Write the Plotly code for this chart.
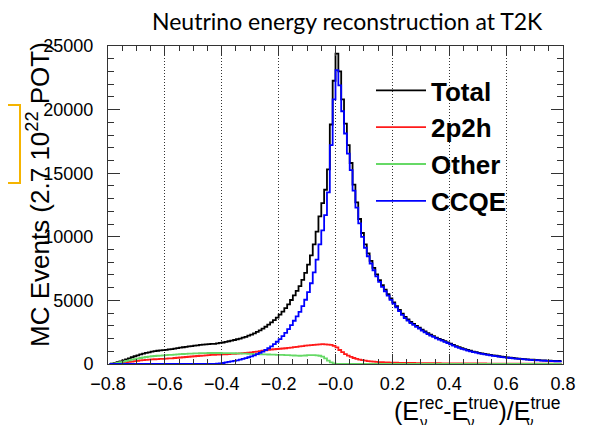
import numpy as np
import plotly.graph_objects as go

# ---------------- data ----------------
bin_centers = np.round(np.linspace(-0.795, 0.795, 160), 3)

total = [10, 30, 80, 140, 210, 290, 370, 450, 530, 610,
         680, 750, 810, 870, 920, 970, 1005, 1040, 1065, 1090,
         1115, 1145, 1175, 1210, 1245, 1280, 1315, 1350, 1380, 1410,
         1440, 1470, 1500, 1520, 1540, 1560, 1575, 1585, 1615, 1655,
         1690, 1740, 1790, 1840, 1885, 1945, 2000, 2070, 2140, 2225,
         2310, 2410, 2520, 2650, 2785, 2930, 3095, 3270, 3450, 3650,
         3875, 4120, 4390, 4690, 5030, 5390, 5750, 6130, 6620, 7160,
         7810, 8540, 9410, 10410, 11600, 12640, 13700, 15300, 18830, 22270,
         24400, 23000, 20800, 18900, 17200, 15800, 14100, 12700, 11400, 10300,
         9400, 8700, 8100, 7550, 7050, 6600, 6200, 5850, 5500, 5150,
         4850, 4550, 4250, 3950, 3700, 3500, 3300, 3150, 3000, 2850,
         2700, 2560, 2420, 2300, 2190, 2080, 1980, 1890, 1790, 1700,
         1600, 1500, 1400, 1320, 1240, 1170, 1100, 1040, 980, 930,
         880, 840, 800, 760, 720, 680, 650, 610, 580, 550,
         520, 500, 470, 450, 430, 410, 390, 370, 350, 340,
         320, 310, 290, 280, 270, 260, 250, 240, 235, 230]

twop2h = [0, 10, 30, 50, 70, 100, 130, 160, 190, 220,
          250, 280, 300, 320, 340, 360, 375, 390, 400, 410,
          420, 435, 450, 470, 490, 510, 530, 550, 570, 590,
          610, 630, 650, 665, 680, 695, 710, 720, 730, 740,
          750, 760, 775, 790, 800, 815, 830, 850, 870, 895,
          920, 950, 980, 1020, 1050, 1080, 1110, 1140, 1160, 1180,
          1200, 1220, 1240, 1260, 1290, 1320, 1350, 1380, 1410, 1440,
          1470, 1490, 1510, 1530, 1550, 1560, 1550, 1530, 1500, 1430,
          1300, 1100, 930, 780, 660, 560, 470, 400, 340, 300,
          260, 230, 200, 180, 165, 150, 140, 130, 120, 112,
          105, 100, 96, 92, 88, 85, 82, 79, 76, 73,
          70, 68, 66, 64, 62, 60, 58, 56, 54, 52,
          50, 49, 48, 47, 46, 45, 44, 43, 42, 41,
          40, 39, 38, 37, 36, 35, 34, 33, 32, 31,
          30, 30, 29, 29, 28, 28, 27, 27, 26, 26,
          25, 25, 24, 24, 23, 23, 22, 22, 21, 20]

other = [0, 20, 50, 90, 140, 190, 240, 290, 340, 390,
         430, 470, 510, 550, 580, 610, 630, 650, 665, 680,
         695, 710, 725, 740, 755, 770, 785, 800, 810, 820,
         830, 840, 850, 855, 860, 865, 865, 865, 865, 865,
         860, 860, 855, 850, 845, 840, 830, 820, 810, 800,
         790, 780, 770, 760, 755, 750, 745, 740, 730, 720,
         715, 710, 700, 690, 680, 670, 660, 650, 660, 670,
         690, 700, 700, 680, 650, 580, 450, 270, 130, 40,
         0, 0, 0, 0, 0, 0, 0, 0, 0, 0,
         0, 0, 0, 0, 0, 0, 0, 0, 0, 0,
         0, 0, 0, 0, 0, 0, 0, 0, 0, 0,
         0, 0, 0, 0, 0, 0, 0, 0, 0, 0,
         0, 0, 0, 0, 0, 0, 0, 0, 0, 0,
         0, 0, 0, 0, 0, 0, 0, 0, 0, 0,
         0, 0, 0, 0, 0, 0, 0, 0, 0, 0,
         0, 0, 0, 0, 0, 0, 0, 0, 0, 0]

ccqe = [0, 0, 0, 0, 0, 0, 0, 0, 0, 0,
        0, 0, 0, 0, 0, 0, 0, 0, 0, 0,
        0, 0, 0, 0, 0, 0, 0, 0, 0, 0,
        0, 0, 0, 0, 0, 0, 0, 0, 20, 50,
        80, 120, 160, 200, 240, 290, 340, 400, 460, 530,
        600, 680, 770, 870, 980, 1100, 1240, 1390, 1560, 1750,
        1960, 2190, 2450, 2740, 3060, 3400, 3740, 4100, 4550, 5050,
        5650, 6350, 7200, 8200, 9400, 10500, 11700, 13500, 17200, 20800,
        23100, 21900, 19870, 18120, 16540, 15240, 13630, 12300, 11060, 10000,
        9140, 8470, 7900, 7370, 6885, 6450, 6060, 5720, 5380, 5038,
        4745, 4450, 4154, 3858, 3612, 3415, 3218, 3071, 2924, 2777,
        2630, 2492, 2354, 2236, 2128, 2020, 1922, 1834, 1736, 1648,
        1550, 1451, 1352, 1273, 1194, 1125, 1056, 997, 938, 889,
        840, 801, 762, 723, 684, 645, 616, 577, 548, 519,
        490, 470, 441, 421, 402, 382, 363, 343, 324, 314,
        295, 285, 266, 256, 247, 237, 228, 218, 214, 210]

series_names = ["Total", "2p2h", "Other", "CCQE"]
series_colors = ["#000000", "#ff1a1a", "#66d966", "#0000ff"]

x_tick_vals = [-0.8, -0.6, -0.4, -0.2, 0.0, 0.2, 0.4, 0.6, 0.8]
x_tick_text = ["\u22120.8", "\u22120.6", "\u22120.4", "\u22120.2", "\u22120.0", "0.2", "0.4", "0.6", "0.8"]
y_tick_vals = [0, 5000, 10000, 15000, 20000, 25000]
y_tick_text = ["0", "5000", "10000", "15000", "20000", "25000"]

# ---------------- figure ----------------
# the page body adds an 8px offset; target positions below are window pixels
OFF = 8
W, H = 589, 425
L, R, T, B = 100, 34, 38, 69
pw, ph = W - L - R, H - T - B


def px_x(p):
    return (p - OFF - L) / pw


def px_y(p):
    return (H - B - (p - OFF)) / ph


fig = go.Figure()
for name, vals, col in zip(series_names, [total, twop2h, other, ccqe], series_colors):
    fig.add_trace(go.Scatter(
        x=bin_centers, y=vals, mode="lines", name=name,
        line=dict(color=col, width=1.8, shape="hvh"),
    ))

axis_col = "#333333"
fig.update_layout(
    width=W, height=H,
    margin=dict(l=L, r=R, t=T, b=B, pad=0),
    paper_bgcolor="white", plot_bgcolor="white",
    showlegend=True,
    legend=dict(
        x=px_x(371), y=px_y(67), xanchor="left", yanchor="top",
        bgcolor="rgba(0,0,0,0)", borderwidth=0,
        font=dict(family="Liberation Sans", size=26, color="black", weight="bold"),
        itemwidth=50, tracegroupgap=0,
    ),
    xaxis=dict(
        range=[-0.8, 0.8], tickmode="array", tickvals=x_tick_vals, ticktext=x_tick_text,
        ticks="inside", ticklen=10, tickwidth=1, tickcolor=axis_col,
        showline=True, linecolor=axis_col, linewidth=1, mirror="ticks",
        showgrid=True, gridcolor="#333333", gridwidth=1, griddash="1px,2px",
        zeroline=False,
        minor=dict(tickmode="linear", tick0=-0.8, dtick=0.05, ticks="inside",
                   ticklen=5, tickcolor=axis_col, showgrid=False),
        tickfont=dict(family="Liberation Sans", size=18, color="black"),
        ticklabelstandoff=3,
    ),
    yaxis=dict(
        range=[0, 25000], tickmode="array", tickvals=y_tick_vals, ticktext=y_tick_text,
        ticks="inside", ticklen=12, tickwidth=1, tickcolor=axis_col,
        showline=True, linecolor=axis_col, linewidth=1, mirror="ticks",
        showgrid=False, zeroline=False,
        minor=dict(tickmode="linear", tick0=0, dtick=1000, ticks="inside",
                   ticklen=6, tickcolor=axis_col, showgrid=False),
        tickfont=dict(family="Liberation Sans", size=18, color="black"),
        ticklabelstandoff=10,
    ),
)

annotations = [
    dict(text="Neutrino energy reconstruction at T2K", x=px_x(347), y=px_y(21),
         xref="paper", yref="paper", xanchor="center", yanchor="middle", showarrow=False,
         font=dict(family="Lato", size=23, color="black")),
    dict(text="MC Events (2.7 10<sup>22</sup> POT)", x=px_x(38), y=px_y(195),
         xref="paper", yref="paper", xanchor="center", yanchor="middle", showarrow=False,
         textangle=-90, font=dict(family="Liberation Sans", size=26, color="black")),
    dict(text="(E<sup>rec</sup>-E<sup>true</sup>)/E<sup>true</sup>", x=px_x(563), y=px_y(409),
         xref="paper", yref="paper", xanchor="right", yanchor="middle", showarrow=False,
         font=dict(family="Liberation Sans", size=25, color="black")),
]
for xp in [424, 471, 530]:
    annotations.append(dict(text="\u03bd", x=px_x(xp), y=px_y(421), xref="paper", yref="paper",
                            xanchor="center", yanchor="middle", showarrow=False,
                            font=dict(family="Liberation Sans", size=15, color="black")))
fig.update_layout(annotations=annotations)

fig.add_shape(type="rect", xref="paper", yref="paper",
              x0=px_x(-10), x1=px_x(20), y0=px_y(183), y1=px_y(105),
              line=dict(color="#f5b400", width=2), fillcolor="rgba(0,0,0,0)", layer="above")

fig.write_html("out.html")
